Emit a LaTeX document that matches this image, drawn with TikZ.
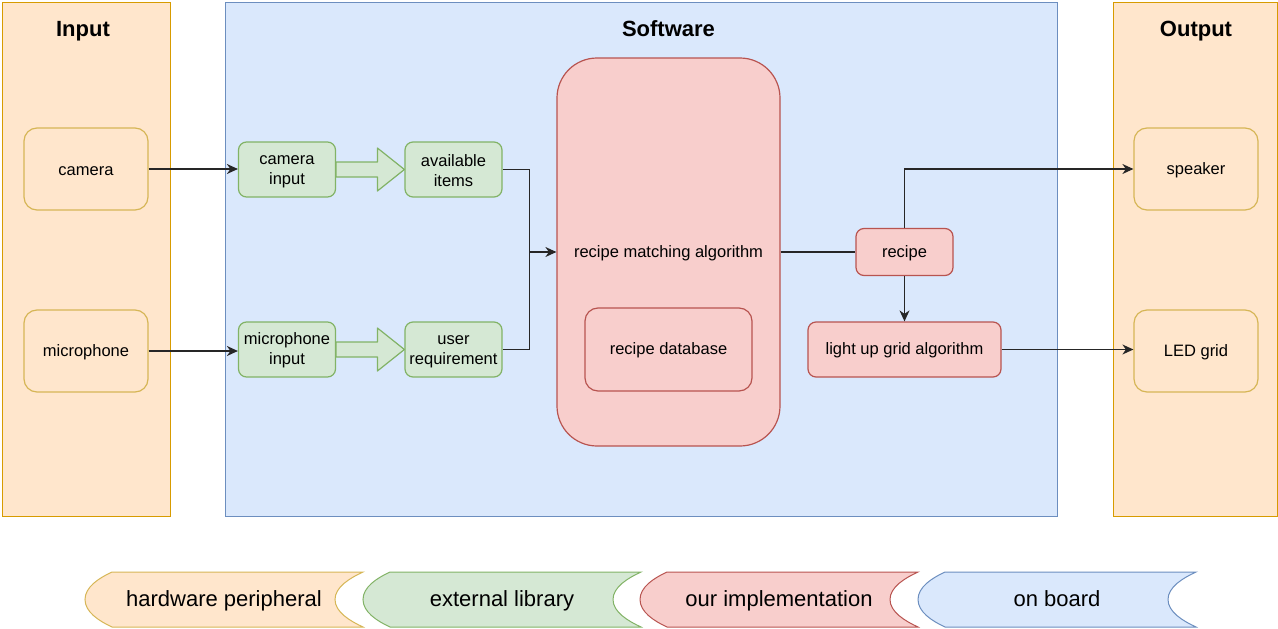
\documentclass[tikz,border=0pt]{standalone}
\usepackage{fontspec}
\setmainfont{Liberation Sans}
\usetikzlibrary{arrows.meta,calc}

\definecolor{orgfill}{HTML}{FFE6CC}
\definecolor{orgline}{HTML}{D79B00}
\definecolor{hwline}{HTML}{D6B656}
\definecolor{grnfill}{HTML}{D5E8D4}
\definecolor{grnline}{HTML}{82B366}
\definecolor{redfill}{HTML}{F8CECC}
\definecolor{redline}{HTML}{B85450}
\definecolor{blufill}{HTML}{DAE8FC}
\definecolor{bluline}{HTML}{6C8EBF}

% strut that lowers single text lines a little inside their boxes
\newcommand\boxstrut{\rule[-0.5pt]{0pt}{14pt}}

\begin{document}
\begin{tikzpicture}[x=1pt,y=-1pt,
  panelorg/.style={fill=orgfill,draw=orgline,line width=0.9pt},
  panelblu/.style={fill=blufill,draw=bluline,line width=0.9pt},
  title/.style={font=\fontsize{22}{26}\selectfont\bfseries,inner sep=0pt,
    text height=16pt,text depth=4.6pt},
  box/.style={rectangle,line width=1.2pt,align=center,inner sep=0pt,
    font=\fontsize{16.5}{20}\selectfont},
  hwbox/.style={box,fill=orgfill,draw=hwline,rounded corners=13pt,
    minimum width=124pt,minimum height=82pt},
  libbox/.style={box,fill=grnfill,draw=grnline,rounded corners=8pt,
    minimum width=97pt,minimum height=55pt},
  impbox/.style={box,fill=redfill,draw=redline,rounded corners=8pt},
  conn/.style={line width=1.2pt,draw=black!85},
  arr/.style={conn,-{Stealth[length=11pt,width=10pt,inset=3.5pt]}},
  bigarrow/.style={fill=grnfill,draw=grnline,line width=1.2pt,line join=round},
  legtext/.style={font=\fontsize{22}{26}\selectfont,inner sep=0pt,
    text height=16pt,text depth=3.5pt}
]
\useasboundingbox (0,0) rectangle (1278,629);

% panels
\draw[panelorg] (2,2) rectangle (170,516);
\draw[panelblu] (225,2) rectangle (1057,516);
\draw[panelorg] (1113,2) rectangle (1277,516);
\node[title] (tin)  at (83,31)    {Input};
\node[title] (tsw)  at (668.5,31) {Software};
\node[title] (tout) at (1196,31)  {Output};

% hardware peripherals
\node[hwbox] (camera)  at (86,169)   {\boxstrut camera};
\node[hwbox] (mic)     at (86,351)   {\boxstrut microphone};
\node[hwbox] (speaker) at (1196,169) {\boxstrut speaker};
\node[hwbox] (led)     at (1196,351) {\boxstrut LED grid};

% external library stages
\node[libbox] (camin)  at (287,169.5)   {\boxstrut camera\\input};
\node[libbox] (avail)  at (453.5,169.5) {\boxstrut available\\items};
\node[libbox] (micin)  at (287,349.5)   {\boxstrut microphone\\input};
\node[libbox] (usereq) at (453.5,349.5) {\boxstrut user\\requirement};

% own implementation
\node[impbox,rounded corners=40pt,minimum width=223pt,minimum height=388pt]
  (match) at (668.5,252) {\boxstrut recipe matching algorithm};
\node[impbox,rounded corners=13pt,minimum width=167pt,minimum height=83pt]
  (db) at (668.5,349.5) {\boxstrut recipe database};
\node[impbox,minimum width=97pt,minimum height=47pt]
  (recipe) at (904.5,252) {\boxstrut recipe};
\node[impbox,minimum width=193pt,minimum height=55pt]
  (light) at (904.5,349.5) {\boxstrut light up grid algorithm};

% wide arrows between library stages
\foreach \a/\b in {camin/avail,micin/usereq}{
  \draw[bigarrow] ($(\a.east)+(0,-7.5)$) -- ($(\b.west)+(-27,-7.5)$)
    -- ($(\b.west)+(-27,-21.5)$) -- (\b.west) -- ($(\b.west)+(-27,21.5)$)
    -- ($(\b.west)+(-27,7.5)$) -- ($(\a.east)+(0,7.5)$) -- cycle;
}

% connectors
\draw[arr] (camera.east) -- (camera.east -| camin.west);
\draw[arr] (mic.east) -- (mic.east -| micin.west);
\draw[conn] (avail.east) -- ++(27,0) coordinate (j1);
\draw[conn] (usereq.east) -- ++(27,0) coordinate (j2);
\draw[conn] (j1) -- (j2);
\draw[arr] (j1 |- match.west) -- (match.west);
\draw[conn] (match.east) -- (recipe.west);
\draw[arr] (recipe.north) |- (speaker.west);
\draw[arr] (recipe.south) -- (light.north);
\draw[arr] (light.east) -- (light.east -| led.west);

% legend tabs
\foreach \x/\f/\d/\t [count=\i] in {85/orgfill/hwline/hardware peripheral,
    363/grnfill/grnline/external library,
    640/redfill/redline/our implementation,
    918/blufill/bluline/on board}{
  \draw[fill=\f,draw=\d,line width=1pt]
    (\x+27,572) -- (\x+278,572)
    .. controls (\x+265,578) and (\x+250,587) .. (\x+250,599.5)
    .. controls (\x+250,612) and (\x+265,621) .. (\x+278,627)
    -- (\x+27,627)
    .. controls (\x+14,621) and (\x,612) .. (\x,599.5)
    .. controls (\x,587) and (\x+14,578) .. (\x+27,572) -- cycle;
  \node[legtext] (leg\i) at (\x+139,600.5) {\t};
}
\end{tikzpicture}
\end{document}
